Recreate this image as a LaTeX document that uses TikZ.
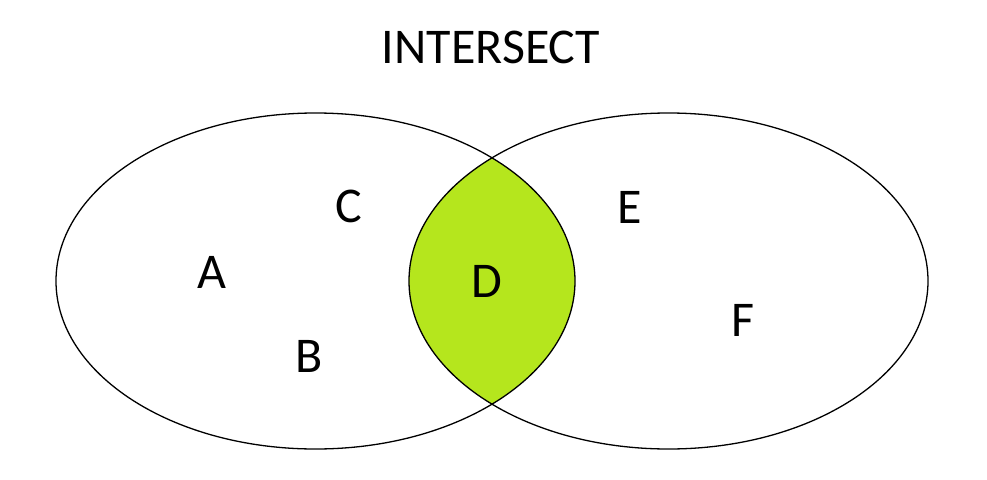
\documentclass[tikz,border=0pt]{standalone}
\usepackage{fontspec}
\setmainfont{Carlito}
\definecolor{limefill}{HTML}{B5E61D}
\tikzset{
  lbl/.style={anchor=base, inner sep=0pt, font=\fontsize{50}{60}\selectfont},
  setline/.style={draw=black, line width=1.3pt}
}
\begin{document}
\begin{tikzpicture}[x=1pt,y=-1pt]
\useasboundingbox[fill=white] (0,0) rectangle (987,479);
\coordinate (cl) at (315.5,281);
\coordinate (cr) at (668.5,281);
\begin{scope}
  \clip (cl) ellipse [x radius=259.5pt, y radius=168pt];
  \fill[limefill] (cr) ellipse [x radius=259.5pt, y radius=168pt];
\end{scope}
\draw[setline] (cl) ellipse [x radius=259.5pt, y radius=168pt];
\draw[setline] (cr) ellipse [x radius=259.5pt, y radius=168pt];
\node[lbl] (title) at (491,63) {INTERSECT};
\node[lbl] (A) at (212,288) {A};
\node[lbl] (C) at (349,222) {C};
\node[lbl] (B) at (309,372) {B};
\node[lbl] (D) at (487,297) {D};
\node[lbl] (E) at (629.5,223) {E};
\node[lbl] (F) at (743,336) {F};
\end{tikzpicture}
\end{document}
